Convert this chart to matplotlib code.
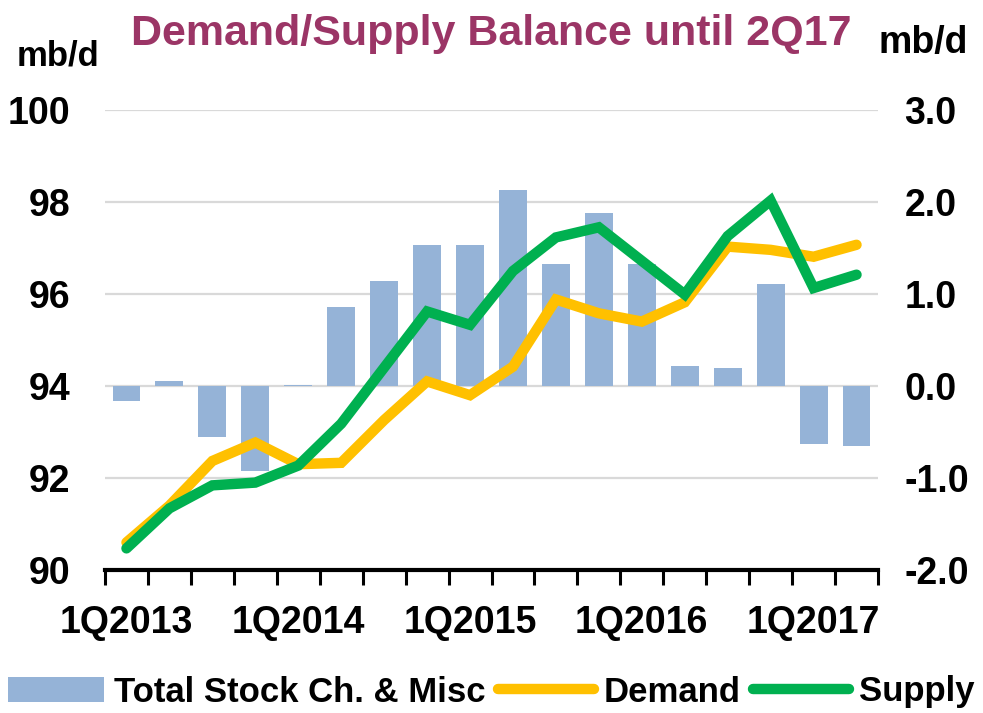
import matplotlib
matplotlib.use("Agg")
import matplotlib.pyplot as plt
from matplotlib.patches import Patch
from matplotlib.lines import Line2D
import numpy as np

# ---- data ------------------------------------------------------------------
quarters = ["1Q2013", "2Q2013", "3Q2013", "4Q2013",
            "1Q2014", "2Q2014", "3Q2014", "4Q2014",
            "1Q2015", "2Q2015", "3Q2015", "4Q2015",
            "1Q2016", "2Q2016", "3Q2016", "4Q2016",
            "1Q2017", "2Q2017"]
stock_change = [-0.16, 0.05, -0.55, -0.92, 0.01, 0.86, 1.14, 1.53, 1.53,
                2.13, 1.33, 1.88, 1.33, 0.22, 0.20, 1.11, -0.63, -0.65]
demand = [90.60, 91.40, 92.37, 92.77, 92.30, 92.33, 93.26, 94.10, 93.80,
          94.42, 95.88, 95.58, 95.40, 95.82, 97.03, 96.96, 96.81, 97.07]
supply = [90.47, 91.34, 91.84, 91.90, 92.27, 93.18, 94.40, 95.62, 95.33,
          96.50, 97.23, 97.45, 96.72, 95.99, 97.26, 98.03, 96.13, 96.42]
left_ticks = [90, 92, 94, 96, 98, 100]
right_ticks = [-2.0, -1.0, 0.0, 1.0, 2.0, 3.0]

BLUE, YELLOW, GREEN, TITLE = "#95B3D7", "#FFC000", "#00B050", "#9B3566"
FONT = ["Liberation Sans Narrow", "Liberation Sans", "DejaVu Sans"]
plt.rcParams.update({"font.family": FONT, "font.weight": "bold"})

fig = plt.figure(figsize=(9.83, 7.13), dpi=100)
# bars on the primary axes (right scale), lines on the twin (left scale) so lines sit on top
ax = fig.add_axes([105/983, 143/713, 773/983, 460/713])
ax2 = ax.twinx()

x = np.arange(len(quarters))
ax.bar(x, stock_change, width=0.65, color=BLUE, zorder=2)
ax.set_ylim(-2.0, 3.0)
ax.set_yticks(right_ticks)
ax.set_yticklabels([f"{v:.1f}" for v in right_ticks])
ax.yaxis.tick_right()
for v in right_ticks[1:]:
    ax.axhline(v, color="#D9D9D9", lw=1.6, zorder=1)

ax2.plot(x, demand, color=YELLOW, lw=7.5, solid_capstyle="round", solid_joinstyle="miter", zorder=3)
ax2.plot(x, supply, color=GREEN, lw=7.5, solid_capstyle="round", solid_joinstyle="miter", zorder=4)
ax2.set_ylim(90, 100)
ax2.set_yticks(left_ticks)
ax2.yaxis.tick_left()

ax.set_xlim(-0.5, len(quarters) - 0.5)
ax.set_xticks(np.arange(-0.5, len(quarters), 1.0))
ax.set_xticklabels([])
ax.set_xticks(x[::4], minor=True)
ax.set_xticklabels([quarters[i] for i in x[::4]], minor=True)
ax.tick_params(axis="x", which="major", direction="out", length=11, width=2.2, color="black")
ax.tick_params(axis="x", which="minor", length=0, pad=25, labelsize=27)
ax.tick_params(axis="y", length=0, pad=19, labelsize=27)
ax2.tick_params(axis="y", length=0, pad=25, labelsize=27)
for a in (ax, ax2):
    for s in ("top", "left", "right"):
        a.spines[s].set_visible(False)
ax.spines["bottom"].set_linewidth(3)
ax2.spines["bottom"].set_visible(False)

fig.text(0.5, 1 - 34/713, "Demand/Supply Balance until 2Q17", ha="center", va="center",
         fontsize=31, color=TITLE)
fig.text(58/983, 1 - 56/713, "mb/d", ha="center", va="center", fontsize=25)
fig.text(923/983, 1 - 43/713, "mb/d", ha="center", va="center", fontsize=27)

handles = [Patch(facecolor=BLUE, edgecolor="none"),
           Line2D([], [], color=YELLOW, lw=7.5, solid_capstyle="round"),
           Line2D([], [], color=GREEN, lw=7.5, solid_capstyle="round")]
fig.legend(handles, ["Total Stock Ch. & Misc", "Demand", "Supply"],
           loc="center", bbox_to_anchor=(0.5, 1 - 692/713), ncol=3, frameon=False,
           fontsize=25, handlelength=2.75, handletextpad=0.3, columnspacing=0.35,
           borderaxespad=0, borderpad=0)

fig.savefig("out.png", dpi=100)
